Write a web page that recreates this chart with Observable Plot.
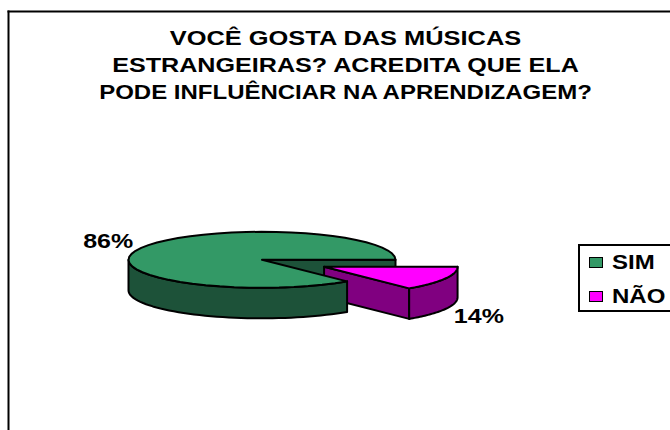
<!DOCTYPE html>
<html lang="pt">
<head>
<meta charset="utf-8">
<script src="https://cdn.jsdelivr.net/npm/d3@7"></script>
<script src="https://cdn.jsdelivr.net/npm/@observablehq/plot@0.6"></script>
<style>
  html, body { margin: 0; padding: 0; background: #fff; overflow: hidden; }
  #page { position: relative; width: 670px; height: 430px; overflow: hidden; font-family: "Liberation Sans", Arial, sans-serif; }
  #legend { position: absolute; left: 578px; top: 244px; width: 110px; height: 68px; box-sizing: border-box; border: 2px solid #000; background: #fff; }
  #legend div { position: absolute; left: 9px; font-weight: bold; font-size: 20px; line-height: 22px; display: flex; align-items: center; }
  #legend i { display: inline-block; width: 12px; height: 9px; border: 1.5px solid #000; margin-right: 9px; }
  #legend span { display: inline-block; transform: scaleX(1.2); transform-origin: left center; }
</style>
</head>
<body>
<div id="page"></div>
<script>
// Survey answers
const categories = ["SIM", "NÃO"];
const shares = [86, 14];
const topColors = ["#339966", "#ff00ff"];
const sideColors = ["#1d5239", "#800080"];
const titleLines = [
  "VOCÊ GOSTA DAS MÚSICAS",
  "ESTRANGEIRAS? ACREDITA QUE ELA",
  "PODE INFLUÊNCIAR NA APRENDIZAGEM?"
];
const titleStretch = [1.27, 1.257, 1.2];

// Pie geometry, in radii of the ellipse
const depth = 1.09;
const explodeX = 0.465;
const explodeY = 0.25;

// The smaller slice starts at 3 o'clock and the larger one follows clockwise
const toRad = (p) => (p / 100) * 2 * Math.PI;
const pinkEnd = toRad(shares[1]);
const arc = (a0, a1, ox = 0, oy = 0) =>
  d3.range(0, 49).map((i) => {
    const t = a0 + ((a1 - a0) * i) / 48;
    return [ox + Math.cos(t), oy + Math.sin(t)];
  });
const shape = (part, fill, pts) =>
  [...pts, pts[0]].map(([x, y]) => ({ part, fill, x, y }));

// Larger slice
const greenTop = shape("greenTop", topColors[0], [[0, 0], ...arc(pinkEnd, 2 * Math.PI)]);
const frontArc = arc(pinkEnd, Math.PI);
const greenRim = shape("greenRim", sideColors[0], [
  ...frontArc,
  ...frontArc.map(([x, y]) => [x, y + depth]).reverse()
]);
const notchWall = shape("notchWall", sideColors[0], [[0, 0], [1, 0], [1, depth], [0, depth]]);

// Exploded slice
const apex = [explodeX, explodeY];
const pinkArc = arc(0, pinkEnd, explodeX, explodeY);
const pinkEdge = pinkArc[pinkArc.length - 1];
const pinkWall = shape("pinkWall", sideColors[1], [
  apex, pinkEdge, [pinkEdge[0], pinkEdge[1] + depth], [apex[0], apex[1] + depth]
]);
const pinkRim = shape("pinkRim", sideColors[1], [
  ...pinkArc,
  ...pinkArc.map(([x, y]) => [x, y + depth]).reverse()
]);
const pinkTop = shape("pinkTop", topColors[1], [apex, ...pinkArc]);

const face = (data) =>
  Plot.line(data, {
    x: "x", y: "y", z: "part", fill: "fill",
    stroke: "#000", strokeWidth: 2, strokeLinejoin: "round", curve: "linear"
  });

// Percent labels sit off the rim at each slice's middle angle
const greenMid = pinkEnd + toRad(shares[0]) / 2;
const pinkMid = pinkEnd / 2;
const labelStyle = { fontSize: 20, fontWeight: "bold", fill: "#000", fontFamily: "Liberation Sans, Arial, sans-serif" };

const chart = Plot.plot({
  width: 670,
  height: 430,
  marginLeft: 8,
  marginTop: 11,
  marginRight: 0,
  marginBottom: 0,
  style: { background: "#fff", display: "block", overflow: "hidden" },
  x: { domain: [-1, 1], range: [128, 395], axis: null },
  y: { domain: [-1, 1], range: [231.3, 287.3], axis: null },
  marks: [
    Plot.frame({ anchor: "left", stroke: "#000", strokeWidth: 2, strokeOpacity: 1 }),
    Plot.frame({ anchor: "top", stroke: "#000", strokeWidth: 2, strokeOpacity: 1 }),
    ...titleLines.map((line, i) =>
      Plot.text([line], {
        text: (d) => d, frameAnchor: "top", dx: 6, dy: 19 + i * 27, ...labelStyle
      })
    ),
    face(notchWall),
    face(pinkWall),
    face(pinkRim),
    face(pinkTop),
    face(greenRim),
    face(greenTop),
    Plot.text([shares[0]], {
      x: () => Math.cos(greenMid), y: () => Math.sin(greenMid),
      text: (d) => `${d}%`, dx: -33, dy: -6, ...labelStyle
    }),
    Plot.text([shares[1]], {
      x: () => explodeX + Math.cos(pinkMid), y: () => explodeY + Math.sin(pinkMid),
      text: (d) => `${d}%`, dx: 34, dy: 38, ...labelStyle
    })
  ]
});

// Chart lettering is set wide: stretch each label around its centred anchor
chart.querySelectorAll("text").forEach((t) => {
  const line = titleLines.indexOf(t.textContent);
  const stretch = line >= 0 ? titleStretch[line] : 1.25;
  const current = t.getAttribute("transform") || "";
  t.setAttribute("transform", `${current} scale(${stretch},1)`);
});

const page = document.getElementById("page");
page.append(chart);

// Legend box
const legend = document.createElement("div");
legend.id = "legend";
categories.forEach((name, i) => {
  const row = document.createElement("div");
  row.style.top = `${5 + i * 34}px`;
  const swatch = document.createElement("i");
  swatch.style.background = topColors[i];
  const label = document.createElement("span");
  label.textContent = name;
  row.append(swatch, label);
  legend.append(row);
});
page.append(legend);
</script>
</body>
</html>
